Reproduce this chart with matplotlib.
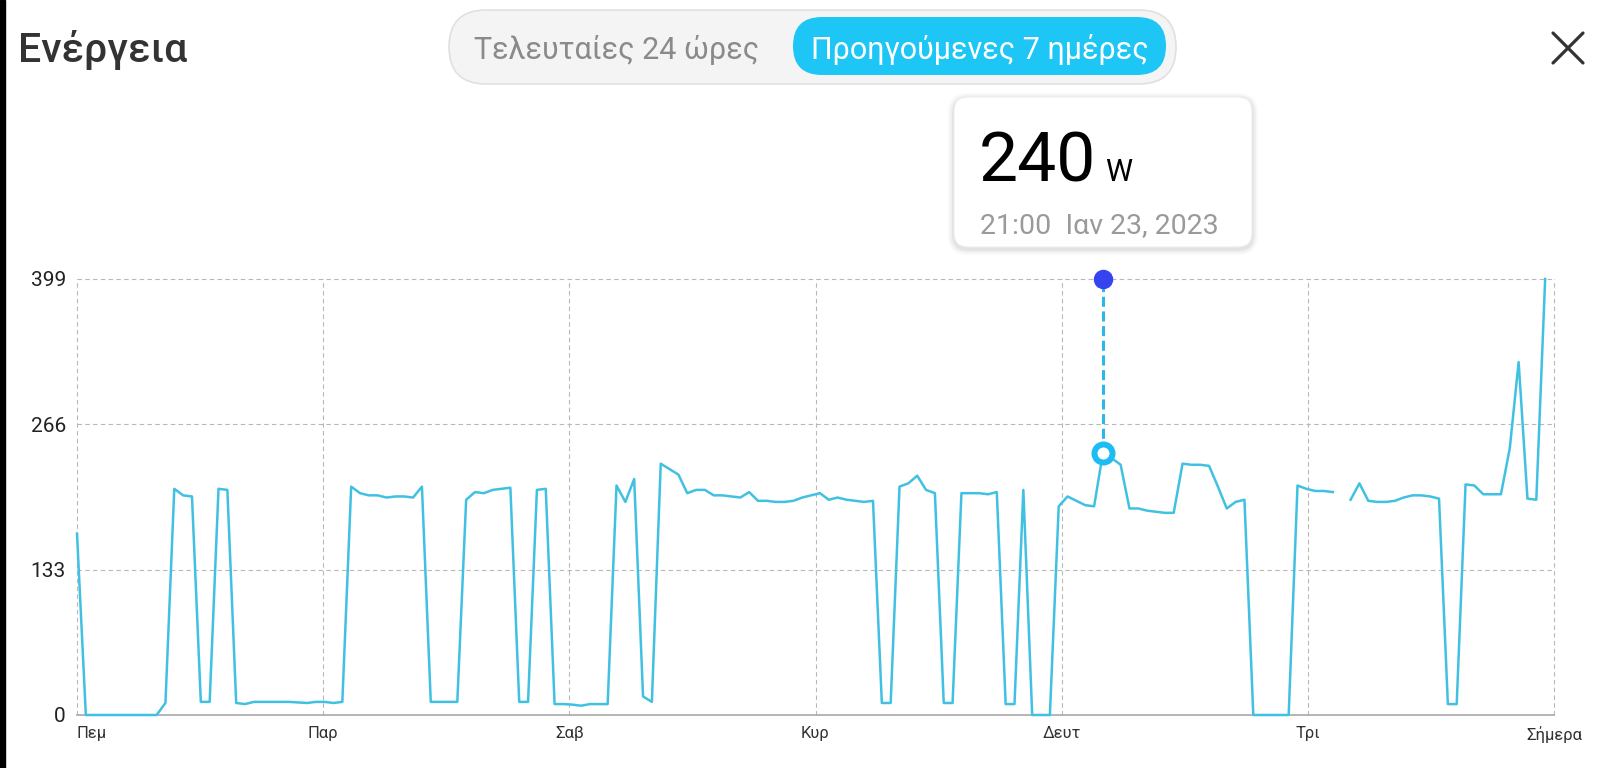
import numpy as np
import matplotlib
matplotlib.use("Agg")
from matplotlib import pyplot as plt
from matplotlib import patches as patches

plt.rcParams['font.family'] = ['Roboto', 'DejaVu Sans']

# hourly power readings (W), last 7 days, nan = no reading
power = [
    166, 0, 0, 0, 0, 0, 0, 0, 0, 0,
    11, 207, 201, 200, 12, 12, 207, 206, 11, 10,
    12, 12, 12, 12, 12, 11.5, 11, 12, 12, 11,
    12, 209, 203, 201, 201, 199, 200, 200, 199, 209,
    12, 12, 12, 12, 197, 204, 203, 206, 207, 208,
    12, 12, 206, 207, 10, 10, 9.5, 8.5, 10, 10,
    10, 210, 195, 216, 17, 12, 230, 225, 220, 203,
    206, 206, 201, 201, 200, 199, 204, 196, 196, 195,
    195, 196, 199, 201, 203, 197, 199, 197, 196, 195,
    196, 11, 11, 209, 212, 219, 206, 203, 11, 11,
    203, 203, 203, 202, 204, 10, 10, 206, 0, 0,
    0, 191, 200, 196, 192, 191, 240, 235, 229, 189,
    189, 187, 186, 185, 185, 230, 229, 229, 228, 209,
    189, 195, 197, 0, 0, 0, 0, 0, 210, 207,
    205, 205, 204, np.nan, 197, 212, 196, 195, 195, 196,
    199, 201, 201, 200, 198, 10, 10, 211, 210, 202,
    202, 202, 244, 323, 198, 197, 399, np.nan,
]
day_labels = ["Πεμ", "Παρ", "Σαβ", "Κυρ", "Δευτ", "Τρι", "Σήμερα"]
y_ticks = [0, 133, 266, 399]
selected_idx = 116
selected_text = "21:00  Ιαν 23, 2023"

LINE = '#41c1e2'
CYAN = '#1ec6f6'
GRID = '#b8b8b8'

fig = plt.figure(figsize=(16, 7.68), dpi=100)
fig.patch.set_facecolor('white')

# main chart area (pixel box 77..1554 x 279..715)
ax = fig.add_axes([77 / 1600, 1 - 715 / 768, (1554 - 77) / 1600, (715 - 279) / 768])
x = np.arange(len(power))
n_max = len(power) - 1
ax.set_xlim(0, n_max)
ax.set_ylim(0, 399)

x_ticks = np.linspace(0, n_max, len(day_labels))
for xt in x_ticks:
    ax.axvline(xt, color=GRID, lw=0.8, ls=(0, (4, 3)), clip_on=False, zorder=1)
for yt in y_ticks[1:]:
    ax.axhline(yt, color=GRID, lw=0.8, ls=(0, (4, 3)), clip_on=False, zorder=1)

ax.plot(x, power, color=LINE, lw=1.8, clip_on=False, zorder=3)

# selected reading: dashed guide, marker on the line and the dot on top
ax.plot([selected_idx, selected_idx], [power[selected_idx], 399], color='#2ab8ea',
        lw=2.2, ls=(0, (3.3, 1.5)), clip_on=False, zorder=4)
ax.plot(selected_idx, 399, 'o', ms=13, color='#3644f0', mec='#3644f0',
        clip_on=False, zorder=5)
ax.plot(selected_idx, power[selected_idx], 'o', ms=13, mfc='white', mec='#1dbdf3',
        mew=4.3, clip_on=False, zorder=5)

for side in ['top', 'right', 'left']:
    ax.spines[side].set_visible(False)
ax.spines['bottom'].set_color('#a8a8a8')
ax.spines['bottom'].set_linewidth(1.2)

ax.set_xticks(x_ticks)
ax.set_xticklabels(day_labels)
ax.set_yticks(y_ticks)
ax.set_yticklabels([str(v) for v in y_ticks])
ax.tick_params(axis='x', length=0, pad=8, labelsize=12, labelcolor='#333333')
ax.tick_params(axis='y', length=0, pad=8, labelsize=15, labelcolor='#222222')
ax.get_xticklabels()[0].set_ha('left')

# overlay in pixel coordinates for the app header and tooltip
ov = fig.add_axes([0, 0, 1, 1], zorder=10)
ov.set_xlim(0, 1600)
ov.set_ylim(768, 0)
ov.axis('off')
ov.patch.set_alpha(0)

ov.add_patch(patches.Rectangle((0, 0), 5, 768, color='black'))

ov.text(18, 62, "Ενέργεια", fontsize=29.5, fontweight='medium', color='#333333',
        va='baseline', ha='left')

# range toggle
ov.add_patch(patches.FancyBboxPatch((449, 10), 727, 74,
                                    boxstyle="round,pad=0,rounding_size=37",
                                    fc='#f4f4f4', ec='#e0e0e0', lw=1.2))
ov.add_patch(patches.FancyBboxPatch((793, 17), 373, 58,
                                    boxstyle="round,pad=0,rounding_size=29",
                                    fc=CYAN, ec='none'))
ov.text(617, 59, "Τελευταίες 24 ώρες", fontsize=22, color='#8a8a8a',
        ha='center', va='baseline')
ov.text(980, 59, "Προηγούμενες 7 ημέρες", fontsize=22, color='white',
        ha='center', va='baseline')

# close button
ov.plot([1553, 1583], [33, 63], color='#333333', lw=2.3, solid_capstyle='round')
ov.plot([1553, 1583], [63, 33], color='#333333', lw=2.3, solid_capstyle='round')

# tooltip card with soft shadow
for grow, alpha in [(6, 0.025), (4, 0.035), (2, 0.05)]:
    ov.add_patch(patches.FancyBboxPatch((954 - grow, 97 - grow + 2), 298 + 2 * grow, 150 + 2 * grow,
                                        boxstyle="round,pad=0,rounding_size=%d" % (14 + grow),
                                        fc='black', ec='none', alpha=alpha))
ov.add_patch(patches.FancyBboxPatch((954, 97), 298, 150,
                                    boxstyle="round,pad=0,rounding_size=14",
                                    fc='white', ec='#ececec', lw=0.8))
ov.text(979, 181, "%d" % power[selected_idx], fontsize=50, color='black',
        ha='left', va='baseline')
ov.text(1105, 181, "W", fontsize=22, color='black', ha='left', va='baseline')
ov.text(980, 233, selected_text, fontsize=20.5, color='#9a9a9a', ha='left', va='baseline')

fig.savefig("out.png", dpi=100)
